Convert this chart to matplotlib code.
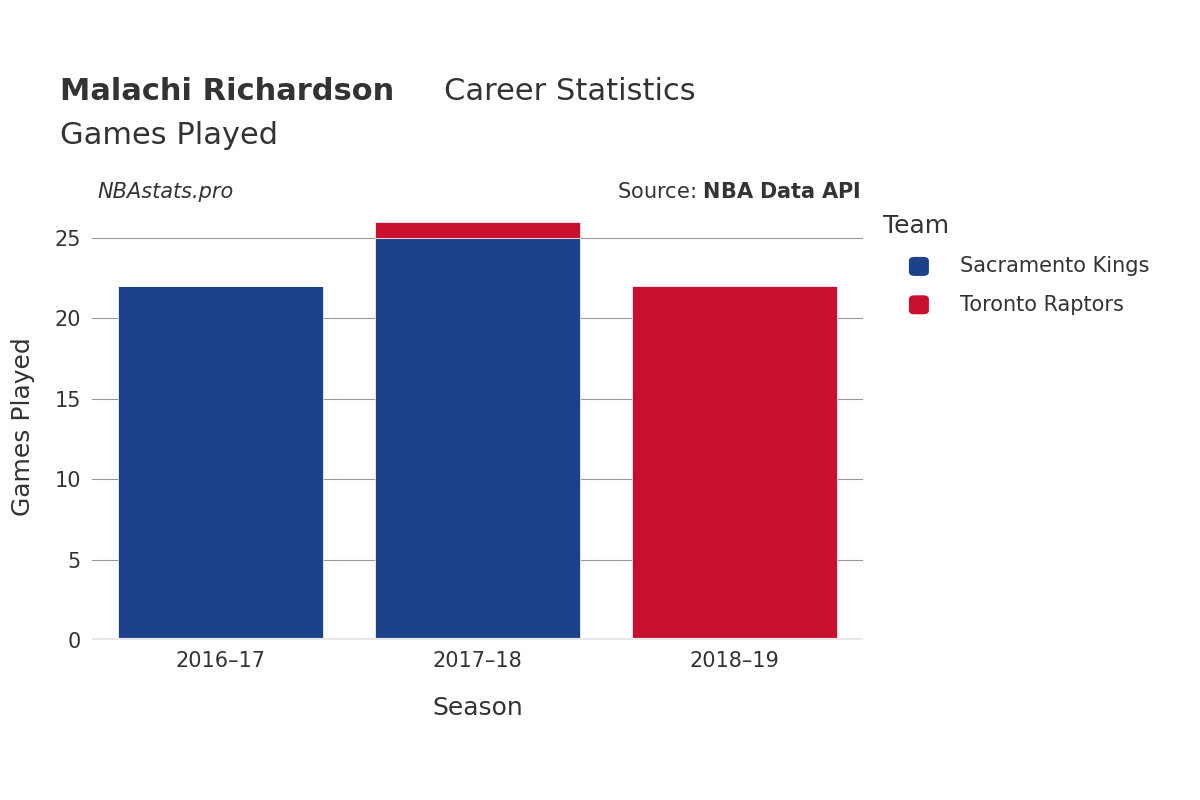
import matplotlib
matplotlib.use("Agg")
import matplotlib.pyplot as plt
import numpy as np

seasons = ['2016–17', '2017–18', '2018–19']
kings = [22, 25, 0]
raptors = [0, 1, 22]
yticks = [0, 5, 10, 15, 20, 25]

c_kings = '#1D428A'
c_raptors = '#C8102E'
txt = '#333333'

fig = plt.figure(figsize=(12, 8), dpi=100)
ax = fig.add_axes([0.0767, 0.2, 0.6425, 0.5325])

x = np.arange(len(seasons))
ax.bar(x, kings, width=0.8, color=c_kings, edgecolor='white', linewidth=0.5, zorder=3)
ax.bar(x, raptors, width=0.8, bottom=kings, color=c_raptors, edgecolor='white', linewidth=0.5, zorder=3)

ax.set_xlim(-0.5, 2.5)
ax.set_ylim(0, 26.5)
ax.set_yticks(yticks)
ax.set_xticks(x)
ax.set_xticklabels(seasons)
ax.tick_params(axis='both', length=0, labelsize=15, colors=txt, pad=8)
ax.grid(axis='y', color='#999999', linewidth=0.8, zorder=0)
for s in ax.spines.values():
    s.set_visible(False)
ax.axhline(0, color='#e8e8e8', linewidth=3, zorder=4)

ax.set_xlabel('Season', fontsize=18, color=txt, labelpad=18)
ax.set_ylabel('Games Played', fontsize=18, color=txt, labelpad=14)

fig.text(0.05, 0.875, 'Malachi Richardson', fontsize=22, fontweight='bold', color=txt, va='baseline')
fig.text(0.37, 0.875, 'Career Statistics', fontsize=22, color=txt, va='baseline')
fig.text(0.05, 0.82, 'Games Played', fontsize=22, color=txt, va='baseline')
fig.text(0.081, 0.76, 'NBAstats.pro', fontsize=15, style='italic', color=txt, va='center')
fig.text(0.717, 0.76, 'Source: $\\bf{NBA\\ Data\\ API}$', fontsize=15, color=txt, va='center', ha='right')

fig.text(0.736, 0.717, 'Team', fontsize=18, color=txt, va='center')
for i, (name, c) in enumerate([('Sacramento Kings', c_kings), ('Toronto Raptors', c_raptors)]):
    yy = 0.667 - i * 0.048
    fig.patches.append(matplotlib.patches.FancyBboxPatch((0.758, yy - 0.011), 0.0155, 0.022,
                       boxstyle='round,pad=0,rounding_size=0.004', transform=fig.transFigure,
                       color=c, figure=fig))
    fig.text(0.8, yy, name, fontsize=15, color=txt, va='center')

fig.savefig('out.png', dpi=100)
